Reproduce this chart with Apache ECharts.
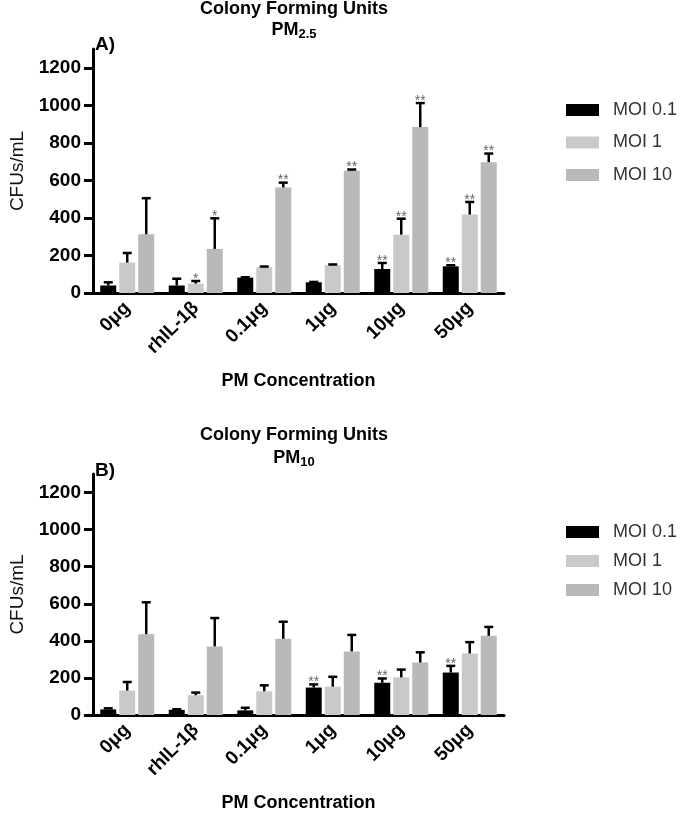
<!DOCTYPE html>
<html>
<head>
<meta charset="utf-8">
<script src="https://cdn.jsdelivr.net/npm/echarts@6/dist/echarts.min.js"></script>
<style>
html,body{margin:0;padding:0;background:#fff;}
#chart{width:680px;height:813px;}
</style>
</head>
<body>
<div id="chart"></div>
<script>
// ---- data ----
const categories = ['0μg', 'rhIL-1β', '0.1μg', '1μg', '10μg', '50μg'];
const yTicks = [0, 200, 400, 600, 800, 1000, 1200];
const seriesNames = ['MOI 0.1', 'MOI 1', 'MOI 10'];

// Panel A: PM2.5
const pm25_moi01 = [40, 40, 82, 57, 128, 142];
const pm25_moi01_err = [17, 36, 2, 2, 32, 6];
const pm25_moi1 = [162, 50, 137, 148, 311, 418];
const pm25_moi1_err = [51, 14, 4, 4, 85, 67];
const pm25_moi10 = [313, 235, 562, 651, 884, 697];
const pm25_moi10_err = [192, 163, 26, 7, 128, 46];
const pm25_moi01_sig = ['', '', '', '', '**', '**'];
const pm25_moi1_sig = ['', '*', '', '', '**', '**'];
const pm25_moi10_sig = ['', '*', '**', '**', '**', '**'];

// Panel B: PM10
const pm10_moi01 = [30, 28, 25, 148, 174, 229];
const pm10_moi01_err = [6, 3, 14, 17, 23, 36];
const pm10_moi1 = [132, 107, 128, 153, 203, 332];
const pm10_moi1_err = [46, 14, 32, 53, 42, 61];
const pm10_moi10 = [436, 370, 411, 343, 283, 427];
const pm10_moi10_err = [172, 153, 92, 89, 55, 48];
const pm10_moi01_sig = ['', '', '', '**', '**', '**'];
const pm10_moi1_sig = ['', '', '', '', '', ''];
const pm10_moi10_sig = ['', '', '', '', '', ''];

// ---- style ----
const FONT = '"Liberation Sans", Arial, Helvetica, sans-serif';
const colors = ['#000000', '#c9c9c9', '#b9b9b9'];
const BAR_W = 16;
const GAP = 3;

const chart = echarts.init(document.getElementById('chart'), null, {renderer: 'canvas'});

function xAxisFor(gridIndex) {
  return {
    type: 'category', gridIndex, data: categories,
    axisLine: {lineStyle: {color: '#000', width: 3}},
    axisTick: {alignWithLabel: true, length: 7, lineStyle: {color: '#000', width: 3}},
    axisLabel: {rotate: 45, margin: 12, color: '#000', fontFamily: FONT, fontWeight: 'bold', fontSize: 19},
    name: 'PM Concentration', nameLocation: 'middle', nameGap: 79,
    nameTextStyle: {color: '#000', fontFamily: FONT, fontWeight: 'bold', fontSize: 18}
  };
}
function yAxisFor(gridIndex) {
  return {
    type: 'value', gridIndex, min: 0, max: 1300, interval: 200,
    splitLine: {show: false},
    axisLine: {show: true, lineStyle: {color: '#000', width: 3}},
    axisTick: {show: true, length: 9, customValues: yTicks, lineStyle: {color: '#000', width: 3}},
    axisLabel: {customValues: yTicks, margin: 12, color: '#000', fontFamily: FONT, fontWeight: 'bold', fontSize: 19,
      formatter: function (v) { return String(v); }},
    name: 'CFUs/mL', nameLocation: 'middle', nameGap: 66, nameRotate: 90,
    nameTextStyle: {color: '#111', fontFamily: FONT, fontSize: 19}
  };
}

function barSeries(name, idx, values, gridIndex) {
  return {
    type: 'bar', name, data: values, xAxisIndex: gridIndex, yAxisIndex: gridIndex,
    barWidth: BAR_W, barGap: (GAP / BAR_W * 100) + '%',
    itemStyle: {color: colors[idx]}, z: 2
  };
}

function errSeries(idx, values, errs, sigs, gridIndex) {
  const data = values.map((v, i) => [i, v, errs[i]]);
  return {
    type: 'custom', xAxisIndex: gridIndex, yAxisIndex: gridIndex, z: 5,
    silent: true, data,
    encode: {x: 0, y: 1},
    renderItem: function (params, api) {
      const cat = api.value(0), mean = api.value(1), err = api.value(2);
      const base = api.coord([cat, mean]);
      const top = api.coord([cat, mean + err]);
      const x = base[0] + (idx - 1) * (BAR_W + GAP);
      const children = [];
      children.push({type: 'line', shape: {x1: x, y1: base[1], x2: x, y2: top[1]},
        style: {stroke: '#000', lineWidth: 2.5}});
      children.push({type: 'line', shape: {x1: x - 4.5, y1: top[1], x2: x + 4.5, y2: top[1]},
        style: {stroke: '#000', lineWidth: 2.5}});
      const s = sigs[params.dataIndex];
      if (s) {
        children.push({type: 'text', x: x, y: top[1] + 5,
          style: {text: s, fill: '#666', fontSize: 14, fontFamily: FONT, align: 'center', verticalAlign: 'bottom'}});
      }
      return {type: 'group', children};
    }
  };
}

const graphics = [];
function addTitles(yTitle, ySub, sub, tag, yTag) {
  graphics.push({type: 'text', x: 294, y: yTitle, style: {text: 'Colony Forming Units', fill: '#000', font: 'bold 18px ' + FONT, align: 'center'}});
  graphics.push({type: 'text', x: 294, y: ySub, style: {
    text: '{a|PM}{s|' + sub + '}', align: 'center',
    rich: {a: {fontFamily: FONT, fontWeight: 'bold', fontSize: 18, fill: '#000'},
           s: {fontFamily: FONT, fontWeight: 'bold', fontSize: 13, fill: '#000', padding: [9, 0, 0, 0]}}
  }});
  graphics.push({type: 'text', x: 95, y: yTag, style: {text: tag, fill: '#000', font: 'bold 19px ' + FONT}});
}
addTitles(0, 19, '2.5', 'A)', 35);
addTitles(426, 447, '10', 'B)', 461);

const legendBase = {
  orient: 'vertical', left: 566, itemWidth: 33, itemHeight: 12, padding: 0,
  icon: 'rect', selectedMode: false, data: seriesNames,
  textStyle: {color: '#333', fontFamily: FONT, fontSize: 18, padding: [0, 0, 0, 9]}
};

const option = {
  backgroundColor: '#fff',
  animation: false,
  color: colors,
  grid: [
    {left: 84, width: 420, top: 49, height: 244, containLabel: false},
    {left: 84, width: 420, top: 474, height: 244, containLabel: false}
  ],
  xAxis: [xAxisFor(0), xAxisFor(1)],
  yAxis: [yAxisFor(0), yAxisFor(1)],
  legend: [
    Object.assign({}, legendBase, {top: 101, itemGap: 14.5}),
    Object.assign({}, legendBase, {top: 523, itemGap: 11})
  ],
  graphic: graphics,
  series: [
    barSeries(seriesNames[0], 0, pm25_moi01, 0),
    barSeries(seriesNames[1], 1, pm25_moi1, 0),
    barSeries(seriesNames[2], 2, pm25_moi10, 0),
    errSeries(0, pm25_moi01, pm25_moi01_err, pm25_moi01_sig, 0),
    errSeries(1, pm25_moi1, pm25_moi1_err, pm25_moi1_sig, 0),
    errSeries(2, pm25_moi10, pm25_moi10_err, pm25_moi10_sig, 0),
    barSeries(seriesNames[0], 0, pm10_moi01, 1),
    barSeries(seriesNames[1], 1, pm10_moi1, 1),
    barSeries(seriesNames[2], 2, pm10_moi10, 1),
    errSeries(0, pm10_moi01, pm10_moi01_err, pm10_moi01_sig, 1),
    errSeries(1, pm10_moi1, pm10_moi1_err, pm10_moi1_sig, 1),
    errSeries(2, pm10_moi10, pm10_moi10_err, pm10_moi10_sig, 1)
  ]
};
chart.setOption(option);
</script>
</body>
</html>
